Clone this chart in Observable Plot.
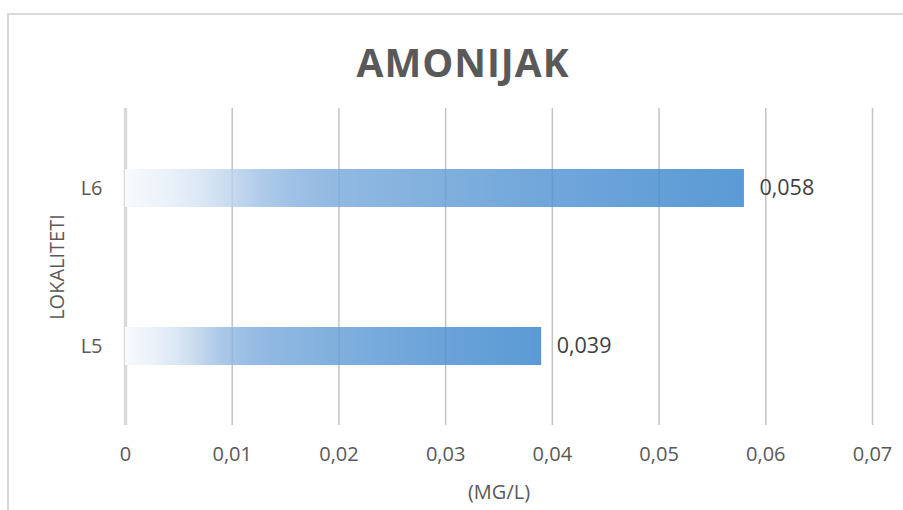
<!DOCTYPE html>
<html>
<head>
<meta charset="utf-8">
<script src="https://cdn.jsdelivr.net/npm/d3@7"></script>
<script src="https://cdn.jsdelivr.net/npm/@observablehq/plot@0.6"></script>
<style>
  html, body { margin: 0; padding: 0; background: #fff; }
  #wrap { position: relative; width: 903px; height: 510px; overflow: hidden; background: #fff; font-family: "Open Sans", sans-serif; }
  #border { position: absolute; left: 7px; top: 13px; width: 1000px; height: 1000px; border-left: 2px solid #d9d9d9; border-top: 2px solid #d9d9d9; box-sizing: border-box; }
  #title { position: absolute; left: 0; width: 926px; top: 42px; text-align: center; font-weight: 700; font-size: 39px; letter-spacing: 1px; line-height: 1; color: #595959; }
  #chart { position: absolute; left: 0; top: 90px; }
</style>
</head>
<body>
<div id="wrap">
  <div id="border"></div>
  <div id="title">AMONIJAK</div>
  <div id="chart"></div>
</div>
<script>
const categories = ["L6", "L5"];
const values = [0.058, 0.039];
const valueLabels = ["0,058", "0,039"];
const xTicks = [0, 0.01, 0.02, 0.03, 0.04, 0.05, 0.06, 0.07];
const xTickLabels = ["0", "0,01", "0,02", "0,03", "0,04", "0,05", "0,06", "0,07"];
const xTitle = "(MG/L)";
const yTitle = "LOKALITETI";

const data = categories.map((c, i) => ({cat: c, value: values[i], label: valueLabels[i]}));

const gradStops = [
  [0, "#f7fafd"], [0.07, "#eaf1f9"], [0.12, "#dce8f5"], [0.17, "#c8dbef"],
  [0.22, "#b0cbea"], [0.27, "#9fc1e6"], [0.34, "#91b9e2"], [0.52, "#7fafdd"],
  [0.69, "#70a6db"], [0.83, "#66a0d8"], [1, "#5b9bd5"]
];

const defs = () => {
  const d = d3.create("svg:defs");
  const g = d.append("linearGradient").attr("id", "amonijakGrad")
    .attr("x1", "0").attr("y1", "0").attr("x2", "1").attr("y2", "0");
  gradStops.forEach(([o, c]) => g.append("stop").attr("offset", o).attr("stop-color", c));
  return d.node();
};

const chart = Plot.plot({
  width: 903,
  height: 420,
  marginLeft: 125,
  marginRight: 31,
  marginTop: 18,
  marginBottom: 85,
  style: {fontFamily: "'Open Sans', sans-serif", fontSize: "20px", color: "#595959", background: "transparent"},
  x: {domain: [0, 0.07]},
  y: {domain: categories, padding: 0},
  marks: [
    defs,
    Plot.ruleX(xTicks.slice(1), {stroke: "#d0d0d0", strokeWidth: 1.5}),
    Plot.ruleX([0], {stroke: "#d9d9d9", strokeWidth: 3.5}),
    Plot.barX(data, {x: "value", y: "cat", fill: "url(#amonijakGrad)", insetTop: 60, insetBottom: 60}),
    Plot.ruleX(xTicks.slice(1), {stroke: "#000", strokeOpacity: 0.06, strokeWidth: 1.5}),
    Plot.text(data, {x: "value", y: "cat", text: "label", dx: 15, textAnchor: "start", fill: "#404040", fontSize: 21.5}),
    Plot.axisX({ticks: xTicks, tickFormat: d => xTickLabels[xTicks.indexOf(d)], tickSize: 0, tickPadding: 21, fontSize: 20,
      label: xTitle, labelAnchor: "center", labelArrow: "none", labelOffset: 73, fill: "#595959"}),
    Plot.axisY({tickSize: 0, tickPadding: 23, fontSize: 20, label: yTitle, labelAnchor: "center", labelArrow: "none", labelOffset: 76, fill: "#595959"})
  ]
});
document.getElementById("chart").appendChild(chart);
</script>
</body>
</html>
